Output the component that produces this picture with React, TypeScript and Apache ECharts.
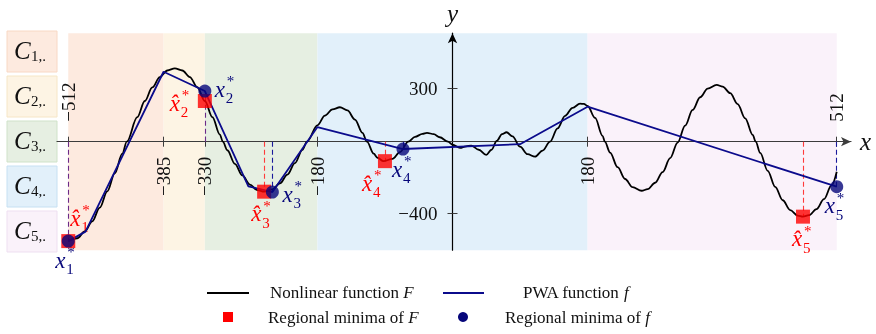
import React, { useEffect, useRef } from 'react';
import * as echarts from 'echarts';

// ---------- data ----------
const X_MIN = -527;
const X_MAX = 531;
const Y_MIN = -608;
const Y_MAX = 608;

const REGION_BOUNDS = [-512, -385, -330, -180, 180, 512];
const REGION_SUBS = ['1,.', '2,.', '3,.', '4,.', '5,.'];

const X_TICKS = [-512, -385, -330, -180, 180, 512];
const X_LABELS_BELOW = [-385, -330, -180, 180];
const X_LABELS_ABOVE = [-512, 512];
const Y_TICKS = [300, -400];

const F_X = [-512, -500, -490, -480, -470, -460, -450, -440, -434, -420, -410, -400, -390, -380, -370, -360, -350, -340, -330, -320, -310, -306, -300, -290, -280, -270, -260, -251, -240, -230, -220, -210, -200, -194, -180, -170, -160, -150, -140, -130, -120, -114, -105, -100, -92, -80, -70, -59, -50, -40, -34, -25, -17, -6, 0, 10, 18, 25, 35, 45, 52, 59, 66, 72, 80, 90, 100, 110, 120, 130, 140, 150, 160, 170, 175, 180, 190, 200, 203, 210, 220, 230, 240, 252, 260, 270, 280, 290, 300, 310, 320, 330, 340, 352, 360, 370, 380, 390, 400, 404, 410, 420, 430, 440, 450, 460, 467, 475, 485, 495, 505, 512];
const F_Y = [-557, -541, -503, -446, -369, -278, -177, -67, 0, 138, 228, 304, 362, 399, 411, 399, 362, 305, 228, 138, 40, 0, -48, -124, -189, -240, -271, -280, -267, -234, -184, -120, -46, 0, 92, 146, 181, 193, 175, 124, 50, 0, -67, -90, -109, -96, -58, 0, 27, 44, 50, 42, 25, 0, -17, -35, -26, -22, -45, -74, -45, 5, 42, 53, 30, -28, -70, -84, -50, 0, 75, 145, 190, 213, 212, 200, 133, 33, 0, -61, -143, -209, -255, -275, -266, -230, -170, -92, -5, 90, 178, 249, 297, 318, 309, 272, 211, 131, 38, 0, -63, -163, -253, -328, -383, -414, -420, -412, -378, -322, -245, -168];

const PWA_X = [-512, -489, -385, -330, -272, -240, -180, -66, 90, 180, 512];
const PWA_Y = [-557, -504, 392, 284, -250, -282, 82, -41, -14, 196, -252];

const MIN_F_X = [-512, -330, -251, -90, 467];
const MIN_F_Y = [-557, 228, -280, -109, -420];
const MIN_PWA_X = [-512, -330, -240, -66, 512];
const MIN_PWA_Y = [-557, 284, -282, -41, -252];
const MIN_INDEX = ['1', '2', '3', '4', '5'];

const LEGEND_TEXTS = ['Nonlinear function {i|F}', 'PWA function {i|f}', 'Regional minima of {i|F}', 'Regional minima of {i|f}'];

// ---------- styles ----------
const SERIF = '"Liberation Serif", "DejaVu Serif", serif';
const REGION_FILLS = ['#fdeadf', '#fdf4e4', '#e6efe2', '#e2f0fa', '#faf2fa'];
const REGION_STROKES = ['#f8d8c4', '#f6e6c6', '#cfe2c9', '#c6e0f2', '#eedff1'];
const BLACK = '#000000';
const NAVY_LINE = '#0b0b8c';
const NAVY = '#06067a';
const RED = '#ff0000';
const RED_DASH = '#ff3b3b';
const BLUE_DASH = '#1a1a9c';
const PURPLE_DASH = '#6c2a88';
const AXIS = '#3c3c3c';
// label offsets (px) of the "x" glyph (left, vertical centre) relative to markers
const RED_LABEL_OFF = [[2, -21], [-35, 4], [-13, 24], [-23, 24], [-11, 24]];
const BLUE_LABEL_OFF = [[-13, 21], [10, 0], [10, 4], [-11, 22], [-12, 21]];

const fmt = (v: number) => (v < 0 ? '\u2212' + Math.abs(v) : String(v));

function mathLabel(px: number, py: number, sub: string, hat: boolean, color: string) {
  const y = py - 2;
  return {
    type: 'group',
    children: [
      { type: 'text', x: px, y, style: { text: hat ? 'x\u0302' : 'x', fontFamily: SERIF, fontStyle: 'italic', fontSize: 23, fill: color, align: 'left', verticalAlign: 'middle' } },
      { type: 'text', x: px + 12, y: y - 8, style: { text: '*', fontFamily: SERIF, fontSize: 15, fill: color, align: 'left', verticalAlign: 'middle' } },
      { type: 'text', x: px + 11, y: y + 9, style: { text: sub, fontFamily: SERIF, fontSize: 15, fill: color, align: 'left', verticalAlign: 'middle' } },
    ],
  };
}

export default function App() {
  const ref = useRef<HTMLDivElement>(null);

  useEffect(() => {
    const el = ref.current;
    if (!el) return;
    const chart = echarts.init(el, null, { renderer: 'svg' });

    const fPts = F_X.map((x, i) => [x, F_Y[i]]);
    const pwaPts = PWA_X.map((x, i) => [x, PWA_Y[i]]);
    const minF = MIN_F_X.map((x, i) => [x, MIN_F_Y[i]]);
    const minP = MIN_PWA_X.map((x, i) => [x, MIN_PWA_Y[i]]);

    const areas = REGION_FILLS.map((c, i) => [
      { xAxis: REGION_BOUNDS[i], itemStyle: { color: c } },
      { xAxis: REGION_BOUNDS[i + 1] },
    ]);

    const dashLines: any[] = [];
    MIN_F_X.forEach((x, i) => {
      if (x === MIN_PWA_X[i]) {
        const yy = Math.abs(MIN_PWA_Y[i]) > Math.abs(MIN_F_Y[i]) ? MIN_PWA_Y[i] : MIN_F_Y[i];
        dashLines.push([{ coord: [x, 0], lineStyle: { color: PURPLE_DASH } }, { coord: [x, yy] }]);
      } else {
        dashLines.push([{ coord: [x, 0], lineStyle: { color: RED_DASH } }, { coord: [x, MIN_F_Y[i]] }]);
        dashLines.push([{ coord: [MIN_PWA_X[i], 0], lineStyle: { color: BLUE_DASH } }, { coord: [MIN_PWA_X[i], MIN_PWA_Y[i]] }]);
      }
    });

    const tickStyle = { color: AXIS, width: 1 };

    const option: any = {
      animation: false,
      grid: { left: 57, right: 25, top: 33.2, height: 217, containLabel: false, outerBoundsMode: 'none' },
      xAxis: [
        {
          type: 'value', min: X_MIN, max: X_MAX, position: 'bottom', z: 1,
          axisLine: { onZero: true, onZeroAxisIndex: 0, symbol: ['none', 'arrow'], symbolSize: [7, 10], lineStyle: { color: AXIS, width: 1.2 } },
          axisTick: { show: true, customValues: X_TICKS, length: 5, lineStyle: tickStyle },
          axisLabel: { show: false },
          splitLine: { show: false },
          name: 'x', nameLocation: 'end', nameGap: 9,
          nameTextStyle: { fontFamily: SERIF, fontStyle: 'italic', fontSize: 25, color: '#111', verticalAlign: 'middle', padding: [0, 0, 4, 0] },
        },
        {
          type: 'value', min: X_MIN, max: X_MAX, position: 'top', z: 1,
          axisLine: { show: false, onZero: true, onZeroAxisIndex: 0 },
          axisTick: { show: true, customValues: X_TICKS, length: 5, lineStyle: tickStyle },
          axisLabel: { show: false },
          splitLine: { show: false },
        },
      ],
      yAxis: [
        {
          type: 'value', min: Y_MIN, max: Y_MAX, position: 'left', z: 1,
          axisLine: { show: true, onZero: true, onZeroAxisIndex: 0, symbol: ['none', 'arrow'], symbolSize: [7, 10], lineStyle: { color: BLACK, width: 1.2 } },
          axisTick: { show: true, customValues: Y_TICKS, length: 5, lineStyle: tickStyle },
          axisLabel: { show: false },
          splitLine: { show: false },
          name: 'y', nameLocation: 'end', nameGap: 7,
          nameTextStyle: { fontFamily: SERIF, fontStyle: 'italic', fontSize: 25, color: '#111' },
        },
        {
          type: 'value', min: Y_MIN, max: Y_MAX, position: 'right', z: 1,
          axisLine: { show: false, onZero: true, onZeroAxisIndex: 0 },
          axisTick: { show: true, customValues: Y_TICKS, length: 5, lineStyle: tickStyle },
          axisLabel: { show: false },
          splitLine: { show: false },
        },
      ],
      series: [
        {
          name: 'Nonlinear function F', type: 'line', data: fPts, xAxisIndex: 0, yAxisIndex: 0,
          smooth: 0.35, smoothMonotone: 'x', showSymbol: false, z: 3,
          lineStyle: { color: BLACK, width: 1.8 },
          markArea: { silent: true, z: 0, data: areas, label: { show: false } },
        },
        {
          name: 'PWA function f', type: 'line', data: pwaPts, xAxisIndex: 0, yAxisIndex: 0,
          showSymbol: false, z: 4, lineStyle: { color: NAVY_LINE, width: 1.8 },
        },
        {
          name: 'Regional minima of F', type: 'scatter', data: minF, xAxisIndex: 0, yAxisIndex: 0,
          symbol: 'rect', symbolSize: 14, z: 5, itemStyle: { color: RED },
          markLine: {
            silent: true, z: 2, symbol: ['none', 'none'], label: { show: false },
            lineStyle: { type: [5, 3], width: 1.1 }, data: dashLines,
          },
        },
        {
          name: 'Regional minima of f', type: 'scatter', data: minP, xAxisIndex: 0, yAxisIndex: 0,
          symbol: 'circle', symbolSize: 13, z: 6, itemStyle: { color: NAVY },
        },
      ],
    };

    chart.setOption(option);

    const toPx = (x: number, y: number) =>
      chart.convertToPixel({ xAxisIndex: 0, yAxisIndex: 0 }, [x, y]) as number[];

    const graphics: any[] = [];
    const tickFont = { fontFamily: SERIF, fontSize: 19, fill: '#111' };
    // axis tick labels
    const zeroPx = toPx(0, 0);
    X_LABELS_BELOW.forEach((v) => {
      const p = toPx(v, 0);
      graphics.push({ type: 'text', x: p[0], y: zeroPx[1] + 15, rotation: Math.PI / 2, style: { text: fmt(v), ...tickFont, align: 'right', verticalAlign: 'middle' } });
    });
    X_LABELS_ABOVE.forEach((v) => {
      const p = toPx(v, 0);
      graphics.push({ type: 'text', x: p[0], y: zeroPx[1] - 20, rotation: Math.PI / 2, style: { text: fmt(v), ...tickFont, align: 'left', verticalAlign: 'middle' } });
    });
    Y_TICKS.forEach((v) => {
      const p = toPx(0, v);
      graphics.push({ type: 'text', x: zeroPx[0] - 15, y: p[1], style: { text: fmt(v), ...tickFont, align: 'right', verticalAlign: 'middle' } });
    });
    // region boxes on the left
    REGION_SUBS.forEach((s, i) => {
      const top = 31 + 45 * i;
      graphics.push({ type: 'rect', shape: { x: 7, y: top, width: 50, height: 41 }, style: { fill: REGION_FILLS[i], stroke: REGION_STROKES[i], lineWidth: 1 } });
      graphics.push({ type: 'text', x: 14, y: top + 19, style: { text: 'C', fontFamily: SERIF, fontStyle: 'italic', fontSize: 25, fill: '#111', verticalAlign: 'middle' } });
      graphics.push({ type: 'text', x: 31, y: top + 25, style: { text: s, fontFamily: SERIF, fontSize: 15, fill: '#111', verticalAlign: 'middle' } });
    });
    // marker labels
    MIN_F_X.forEach((x, i) => {
      const p = toPx(x, MIN_F_Y[i]);
      graphics.push(mathLabel(p[0] + RED_LABEL_OFF[i][0], p[1] + RED_LABEL_OFF[i][1], MIN_INDEX[i], true, RED));
    });
    MIN_PWA_X.forEach((x, i) => {
      const p = toPx(x, MIN_PWA_Y[i]);
      graphics.push(mathLabel(p[0] + BLUE_LABEL_OFF[i][0], p[1] + BLUE_LABEL_OFF[i][1], MIN_INDEX[i], false, NAVY));
    });
    // legend
    const legText = (x: number, y: number, t: string) => ({
      type: 'text', x, y,
      style: { text: t, fontFamily: SERIF, fontSize: 17, fill: '#111', verticalAlign: 'middle', rich: { i: { fontFamily: SERIF, fontStyle: 'italic', fontSize: 17, fill: '#111' } } },
    });
    graphics.push({ type: 'line', shape: { x1: 207, y1: 293, x2: 249, y2: 293 }, style: { stroke: BLACK, lineWidth: 2 } });
    graphics.push(legText(270, 292, LEGEND_TEXTS[0]));
    graphics.push({ type: 'line', shape: { x1: 443, y1: 293, x2: 484, y2: 293 }, style: { stroke: NAVY_LINE, lineWidth: 2 } });
    graphics.push(legText(523, 292, LEGEND_TEXTS[1]));
    graphics.push({ type: 'rect', shape: { x: 223, y: 312, width: 10, height: 10 }, style: { fill: RED } });
    graphics.push(legText(268, 317, LEGEND_TEXTS[2]));
    graphics.push({ type: 'circle', shape: { cx: 463, cy: 317, r: 5 }, style: { fill: NAVY } });
    graphics.push(legText(505, 317, LEGEND_TEXTS[3]));

    chart.setOption({ graphic: graphics });

    return () => chart.dispose();
  }, []);

  return <div ref={ref} style={{ position: 'fixed', left: 0, top: 0, width: 876, height: 334 }} />;
}
